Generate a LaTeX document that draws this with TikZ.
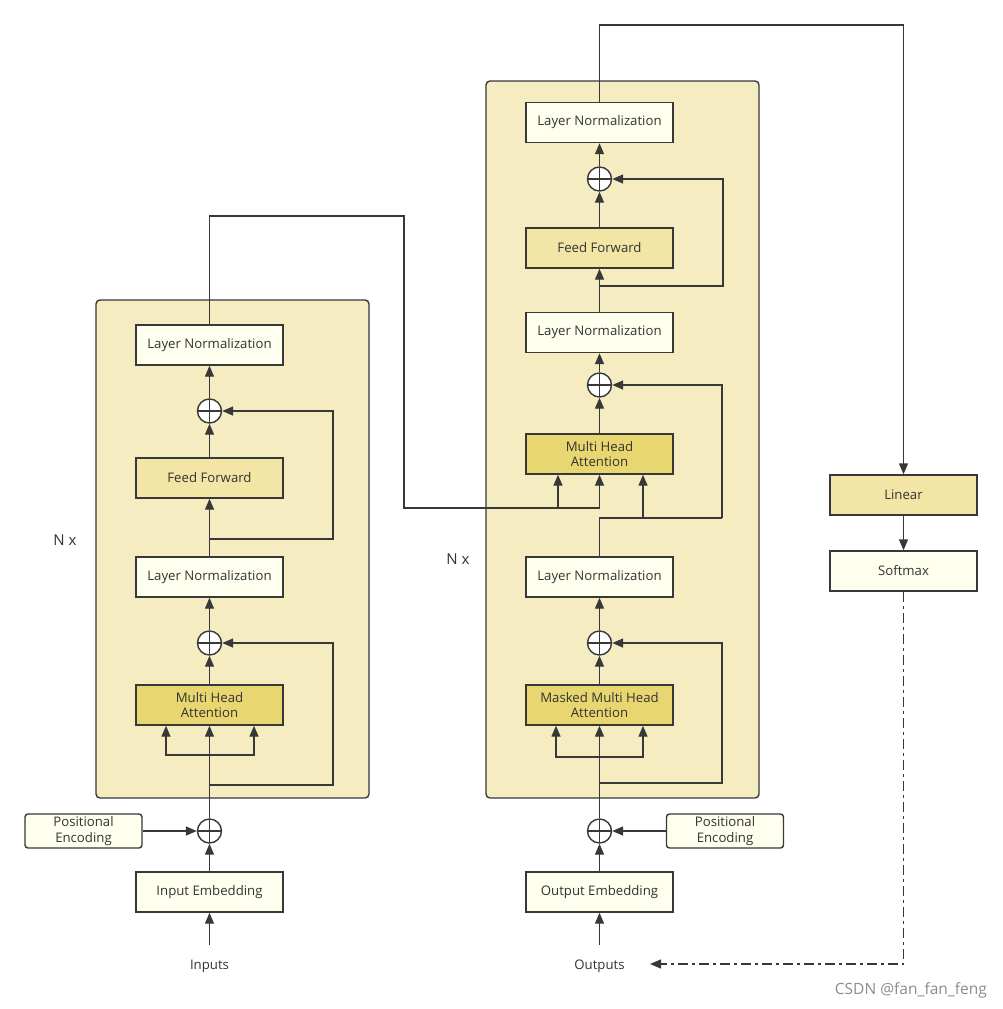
\documentclass[tikz,border=0pt]{standalone}
\usepackage{fontspec}
\setmainfont{Open Sans}
\usetikzlibrary{arrows.meta,calc}
\definecolor{lc}{HTML}{383838}
\definecolor{tc}{HTML}{333333}
\definecolor{contc}{HTML}{F6ECC1}
\definecolor{lnc}{HTML}{FFFFEE}
\definecolor{ffc}{HTML}{F2E5A6}
\definecolor{attc}{HTML}{E8D670}
\begin{document}
\begin{tikzpicture}[x=1pt,y=-1pt,
  blk/.style={draw=lc, line width=1.4pt, minimum width=147pt, minimum height=40pt, inner sep=0pt,
    font=\fontsize{13.2}{15.5}\selectfont, text=tc, align=center},
  ln/.style={blk, fill=lnc},
  ff/.style={blk, fill=ffc},
  att/.style={blk, fill=attc},
  pe/.style={blk, fill=lnc, rounded corners=3pt, minimum width=117pt, minimum height=34pt},
  cont/.style={draw=lc, fill=contc, line width=1.4pt, rounded corners=4pt},
  addc/.style={circle, draw=lc, fill=white, line width=1.4pt, minimum size=24pt, inner sep=0pt,
    path picture={\draw[lc, line width=1.3pt] (path picture bounding box.north) -- (path picture bounding box.south)
      (path picture bounding box.west) -- (path picture bounding box.east);}},
  wire/.style={draw=lc, line width=1.4pt},
  arr/.style={wire, -{Triangle[length=11pt,width=9pt]}},
  lbl/.style={font=\fontsize{13.2}{15.5}\selectfont, text=tc, inner sep=0pt},
]
\useasboundingbox (0,0) rectangle (1002,1009);
\fill[white] (0,0) rectangle (1002,1009);

% containers
\draw[cont] (96,300) rectangle (369,798);
\draw[cont] (486,81) rectangle (759,798);

% encoder
\node[ln] (eln2) at (209.5,345) {Layer Normalization};
\node[addc] (eadd2) at (209.5,411) {};
\node[ff] (eff) at (209.5,478) {Feed Forward};
\node[ln] (eln1) at (209.5,577) {Layer Normalization};
\node[addc] (eadd1) at (209.5,643) {};
\node[att] (emha) at (209.5,705) {Multi Head\\Attention};
\node[addc] (eadd0) at (209.5,831) {};
\node[ln] (eemb) at (209.5,892) {Input Embedding};
\node[pe] (epe) at (83.5,831) {Positional\\Encoding};
\node[lbl] (inputs) at (209.5,966) {Inputs};
\node[lbl, font=\fontsize{15}{17}\selectfont] (enx) at (65,540) {N x};
\coordinate (inp) at (209.5,945);

% decoder
\node[ln] (dln3) at (599.5,122.5) {Layer Normalization};
\node[addc] (dadd3) at (599.5,179) {};
\node[ff] (dff) at (599.5,248) {Feed Forward};
\node[ln] (dln2) at (599.5,332.5) {Layer Normalization};
\node[addc] (dadd2) at (599.5,385) {};
\node[att] (dmha) at (599.5,454) {Multi Head\\Attention};
\node[ln] (dln1) at (599.5,577) {Layer Normalization};
\node[addc] (dadd1) at (599.5,643) {};
\node[att] (dmmha) at (599.5,705) {Masked Multi Head\\Attention};
\node[addc] (dadd0) at (599.5,831) {};
\node[ln] (demb) at (599.5,892) {Output Embedding};
\node[pe] (dpe) at (725,831) {Positional\\Encoding};
\node[lbl] (outputs) at (599.5,966) {Outputs};
\node[lbl, font=\fontsize{15}{17}\selectfont] (dnx) at (458,559) {N x};
\coordinate (outp) at (599.5,945);

% output head
\node[ff] (lin) at (903.5,495) {Linear};
\node[ln] (soft) at (903.5,571) {Softmax};

% watermark
\node[lbl, text=black!45, font=\fontsize{15.5}{17}\selectfont, anchor=east] (wm) at (987,990) {CSDN @fan\_fan\_feng};

% encoder wiring
\draw[arr] (inp) -- (eemb.south);
\draw[arr] (eemb) -- (eadd0);
\draw[arr] (epe) -- (eadd0);
\draw[arr] (eadd0) -- (emha);
\draw[arr] (209.5,755) -| ([xshift=-43.5pt]emha.south);
\draw[arr] (209.5,755) -| ([xshift=44.5pt]emha.south);
\draw[arr] (209.5,785) -- (333,785) |- (eadd1.east);
\draw[arr] (emha) -- (eadd1);
\draw[arr] (eadd1) -- (eln1);
\draw[arr] (eln1) -- (eff);
\draw[arr] (209.5,539) -- (333,539) |- (eadd2.east);
\draw[arr] (eff) -- (eadd2);
\draw[arr] (eadd2) -- (eln2);
\draw[wire] (eln2.north) -- (209.5,216) -- (404,216) -- (404,508) -- (599.5,508);
\draw[arr] (558,508) -- (dmha.south -| 558,0);
\draw[arr] (599.5,508) -- (dmha.south);

% decoder wiring
\draw[arr] (outp) -- (demb.south);
\draw[arr] (demb) -- (dadd0);
\draw[arr] (dpe) -- (dadd0);
\draw[arr] (dadd0) -- (dmmha);
\draw[arr] (599.5,757) -| ([xshift=-43.5pt]dmmha.south);
\draw[arr] (599.5,757) -| ([xshift=43.5pt]dmmha.south);
\draw[arr] (599.5,783) -- (722,783) |- (dadd1.east);
\draw[arr] (dmmha) -- (dadd1);
\draw[arr] (dadd1) -- (dln1);
\draw[wire] (dln1.north) -- (599.5,518) -- (722,518);
\draw[arr] (643,518) -- (dmha.south -| 643,0);
\draw[arr] (722,518) |- (dadd2.east);
\draw[arr] (dmha) -- (dadd2);
\draw[arr] (dadd2) -- (dln2);
\draw[arr] (dln2) -- (dff);
\draw[arr] (599.5,286) -- (723,286) |- (dadd3.east);
\draw[arr] (dff) -- (dadd3);
\draw[arr] (dadd3) -- (dln3);
\draw[arr] (dln3.north) -- (599.5,25) -| (lin.north);
\draw[arr] (lin) -- (soft);
\draw[arr, dash pattern=on 10pt off 4pt on 3pt off 4pt] (soft.south) -- (903.5,964) -- (650,964);
\end{tikzpicture}
\end{document}
